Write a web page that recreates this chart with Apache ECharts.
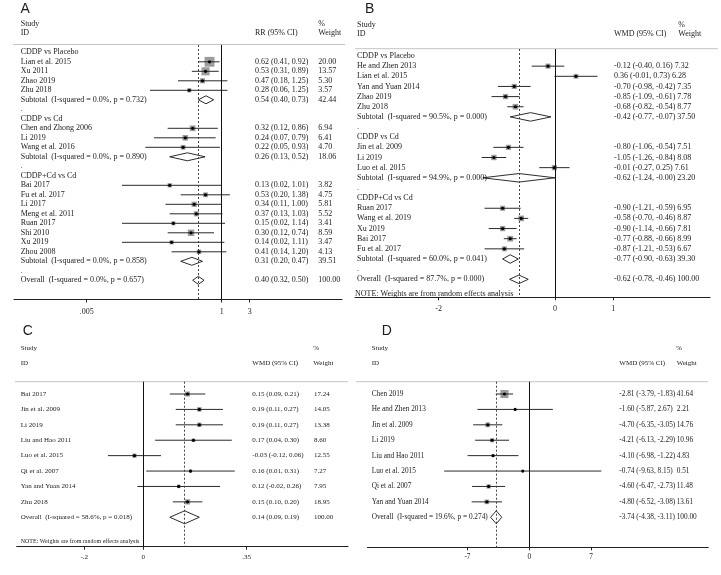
<!DOCTYPE html>
<html><head><meta charset="utf-8">
<script src="https://cdn.jsdelivr.net/npm/echarts@6/dist/echarts.min.js"></script>
<style>html,body{margin:0;padding:0;background:#fff}#c{width:721px;height:575px}</style>
</head><body><div id="c"></div>
<script>
// ---------------- Panel A : RR ----------------
const A_labels = ['CDDP vs Placebo','Lian et al. 2015','Xu 2011','Zhao 2019','Zhu 2018','Subtotal  (I-squared = 0.0%, p = 0.732)','.',
  'CDDP vs Cd','Chen and Zhong 2006','Li 2019','Wang et al. 2016','Subtotal  (I-squared = 0.0%, p = 0.890)','.',
  'CDDP+Cd vs Cd','Bai 2017','Fu et al. 2017','Li 2017','Meng et al. 2011','Ruan 2017','Shi 2010','Xu 2019','Zhou 2008',
  'Subtotal  (I-squared = 0.0%, p = 0.858)','.','Overall  (I-squared = 0.0%, p = 0.657)'];
const A_est = [null,0.62,0.53,0.47,0.28,0.54,null,null,0.32,0.24,0.22,0.26,null,null,0.13,0.53,0.34,0.37,0.15,0.30,0.14,0.41,0.31,null,0.40];
const A_lo  = [null,0.41,0.31,0.18,0.06,0.40,null,null,0.12,0.07,0.05,0.13,null,null,0.02,0.20,0.11,0.13,0.02,0.12,0.02,0.14,0.20,null,0.32];
const A_hi  = [null,0.92,0.89,1.25,1.25,0.73,null,null,0.86,0.79,0.93,0.52,null,null,1.01,1.38,1.00,1.03,1.14,0.74,1.11,1.20,0.47,null,0.50];
const A_weight = [null,20.00,13.57,5.30,3.57,42.44,null,null,6.94,6.41,4.70,18.06,null,null,3.82,4.75,5.81,5.52,3.41,8.59,3.47,4.13,39.51,null,100.00];
const A_ticks = [0.005, 1, 3];
const A_tickLabels = ['.005', '1', '3'];

// ---------------- Panel B : WMD ----------------
const B_labels = ['CDDP vs Placebo','He and Zhen 2013','Lian et al. 2015','Yan and Yuan 2014','Zhao 2019','Zhu 2018',
  'Subtotal  (I-squared = 90.5%, p = 0.000)','.','CDDP vs Cd','Jin et al. 2009','Li 2019','Luo et al. 2015',
  'Subtotal  (I-squared = 94.9%, p = 0.000)','.','CDDP+Cd vs Cd','Ruan 2017','Wang et al. 2019','Xu 2019','Bai 2017','Fu et al. 2017',
  'Subtotal  (I-squared = 60.0%, p = 0.041)','.','Overall  (I-squared = 87.7%, p = 0.000)'];
const B_est = [null,-0.12,0.36,-0.70,-0.85,-0.68,-0.42,null,null,-0.80,-1.05,-0.01,-0.62,null,null,-0.90,-0.58,-0.90,-0.77,-0.87,-0.77,null,-0.62];
const B_lo  = [null,-0.40,-0.01,-0.98,-1.09,-0.82,-0.77,null,null,-1.06,-1.26,-0.27,-1.24,null,null,-1.21,-0.70,-1.14,-0.88,-1.21,-0.90,null,-0.78];
const B_hi  = [null,0.16,0.73,-0.42,-0.61,-0.54,-0.07,null,null,-0.54,-0.84,0.25,-0.00,null,null,-0.59,-0.46,-0.66,-0.66,-0.53,-0.63,null,-0.46];
const B_weight = [null,7.32,6.28,7.35,7.78,8.77,37.50,null,null,7.51,8.08,7.61,23.20,null,null,6.95,8.87,7.81,8.99,6.67,39.30,null,100.00];
const B_ticks = [-2, 0, 1];
const B_tickLabels = ['-2', '0', '1'];

// ---------------- Panel C : WMD ----------------
const C_labels = ['Bai 2017','Jin et al. 2009','Li 2019','Liu and Hao 2011','Luo et al. 2015','Qi et al. 2007','Yan and Yuan 2014','Zhu 2018',
  'Overall  (I-squared = 58.6%, p = 0.018)'];
const C_est = [0.15,0.19,0.19,0.17,-0.03,0.16,0.12,0.15,0.14];
const C_lo  = [0.09,0.11,0.11,0.04,-0.12,0.01,-0.02,0.10,0.09];
const C_hi  = [0.21,0.27,0.27,0.30,0.06,0.31,0.26,0.20,0.19];
const C_weight = [17.24,14.05,13.38,8.60,12.55,7.27,7.95,18.95,100.00];
const C_ticks = [-0.2, 0, 0.35];
const C_tickLabels = ['-.2', '0', '.35'];

// ---------------- Panel D : WMD ----------------
const D_labels = ['Chen 2019','He and Zhen 2013','Jin et al. 2009','Li 2019','Liu and Hao 2011','Luo et al. 2015','Qi et al. 2007','Yan and Yuan 2014',
  'Overall  (I-squared = 19.6%, p = 0.274)'];
const D_est = [-2.81,-1.60,-4.70,-4.21,-4.10,-0.74,-4.60,-4.80,-3.74];
const D_lo  = [-3.79,-5.87,-6.35,-6.13,-6.98,-9.63,-6.47,-6.52,-4.38];
const D_hi  = [-1.83,2.67,-3.05,-2.29,-1.22,8.15,-2.73,-3.08,-3.11];
const D_weight = [41.64,2.21,14.76,10.96,4.83,0.51,11.48,13.61,100.00];
const D_ticks = [-7, 0, 7];
const D_tickLabels = ['-7', '0', '7'];

// ---------------- layout ----------------
const SERIF = '"Liberation Serif", "Times New Roman", serif';
const SANS = '"Liberation Sans", Arial, sans-serif';
const TXT = '#1c1c1c';
const ident = v => v;
const f2 = v => (Object.is(v, -0) ? '-' : '') + v.toFixed(2);

const panels = [
  {labels:A_labels, est:A_est, lo:A_lo, hi:A_hi, w:A_weight, ticks:A_ticks, tickLabels:A_tickLabels, tf:Math.log, nullVal:1,
   axisL:14, axisR:342, zeroPx:221.7, scale:25.48, top:45, axisY:299.5, y0:52.3, dy:9.5,
   font:8, labelX:20.7, ciX:255, wtX:318.3, combine:false, boxK:2.2, margin:8},
  {labels:B_labels, est:B_est, lo:B_lo, hi:B_hi, w:B_weight, ticks:B_ticks, tickLabels:B_tickLabels, tf:ident, nullVal:0,
   axisL:355, axisR:710, zeroPx:555, scale:58.2, top:49, axisY:297.3, y0:56, dy:10.15,
   font:8, labelX:357, ciX:614, wtX:678, combine:true, boxK:1.9, margin:8},
  {labels:C_labels, est:C_est, lo:C_lo, hi:C_hi, w:C_weight, ticks:C_ticks, tickLabels:C_tickLabels, tf:ident, nullVal:0,
   axisL:16.7, axisR:348, zeroPx:143.3, scale:295, top:381.7, axisY:546.7, y0:394, dy:15.41,
   font:7, labelX:20.7, ciX:252.3, wtX:314, combine:false, boxK:1.2, margin:6.5},
  {labels:D_labels, est:D_est, lo:D_lo, hi:D_hi, w:D_weight, ticks:D_ticks, tickLabels:D_tickLabels, tf:ident, nullVal:0,
   axisL:367.3, axisR:708.3, zeroPx:529.3, scale:8.84, top:381.7, axisY:547.3, y0:394, dy:15.41,
   font:7.3, labelX:371.7, ciX:619.3, wtX:676.7, combine:false, boxK:1.25, margin:6.5}
];

function txtStyle(text, font, align) {
  return {text: text, font: font, fill: TXT, align: align || 'left', verticalAlign: 'middle',
          textAlign: align || 'left', textVerticalAlign: 'middle'};
}

function renderFor(P) {
  const font = P.font + 'px ' + SERIF;
  return function (params, api) {
    const i = api.value(1);
    const y = api.coord([0, i])[1];
    const rowH = api.size([0, 1])[1];
    const label = P.labels[i];
    const kids = [{type: 'text', x: P.labelX, y: y, style: txtStyle(label, font)}];
    const est = P.est[i];
    if (est !== null && est !== undefined) {
      const pooled = /^(Subtotal|Overall)/.test(label);
      const c = api.coord([P.tf(est), i]);
      const l = api.coord([P.tf(P.lo[i]), i]);
      const h = api.coord([P.tf(P.hi[i]), i]);
      if (pooled) {
        const hh = rowH * 0.42;
        kids.push({type: 'polygon', shape: {points: [[l[0], y], [c[0], y - hh], [h[0], y], [c[0], y + hh]]},
                   style: {fill: 'none', stroke: '#151515', lineWidth: 0.9}});
      } else {
        const s = P.boxK * Math.sqrt(P.w[i]);
        kids.push({type: 'rect', shape: {x: c[0] - s / 2, y: y - s / 2, width: s, height: s}, style: {fill: '#9c9c9c'}});
        kids.push({type: 'line', shape: {x1: l[0], y1: y, x2: h[0], y2: y}, style: {stroke: '#2a2a2a', lineWidth: 1}});
        kids.push({type: 'circle', shape: {cx: c[0], cy: y, r: 1.6}, style: {fill: '#000'}});
      }
      const ci = f2(est) + ' (' + f2(P.lo[i]) + ', ' + f2(P.hi[i]) + ')';
      const wt = P.w[i].toFixed(2);
      if (P.combine) {
        kids.push({type: 'text', x: P.ciX, y: y, style: txtStyle(ci + ' ' + wt, font)});
      } else {
        kids.push({type: 'text', x: P.ciX, y: y, style: txtStyle(ci, font)});
        kids.push({type: 'text', x: P.wtX, y: y, style: txtStyle(wt, font)});
      }
    }
    return {type: 'group', children: kids};
  };
}

const grid = [], xAxis = [], yAxis = [], series = [];
panels.forEach((P, k) => {
  const xMin = (P.axisL - P.zeroPx) / P.scale;
  const xMax = (P.axisR - P.zeroPx) / P.scale;
  const yMin = (P.top - P.y0) / P.dy;
  const yMax = (P.axisY - P.y0) / P.dy;
  grid.push({left: P.axisL, top: P.top, width: P.axisR - P.axisL, height: P.axisY - P.top, outerBoundsMode: 'none', containLabel: false});
  const tickVals = P.ticks.map(P.tf);
  xAxis.push({
    gridIndex: k, type: 'value', min: xMin, max: xMax,
    axisLine: {show: true, onZero: false, lineStyle: {color: '#222', width: 1}},
    axisTick: {show: true, length: 3, customValues: tickVals, lineStyle: {color: '#222', width: 1}},
    axisLabel: {
      customValues: tickVals, margin: P.margin, fontSize: P.font, fontFamily: SERIF, color: TXT,
      formatter: v => {
        let best = 0;
        tickVals.forEach((t, j) => { if (Math.abs(t - v) < Math.abs(tickVals[best] - v)) best = j; });
        return P.tickLabels[best];
      }
    },
    splitLine: {show: false}
  });
  yAxis.push({gridIndex: k, type: 'value', inverse: true, min: yMin, max: yMax, show: false, splitLine: {show: false}});
  series.push({
    type: 'line', xAxisIndex: k, yAxisIndex: k, data: [], silent: true,
    markLine: {
      silent: true, symbol: 'none', animation: false, label: {show: false},
      data: [
        {xAxis: P.tf(P.nullVal), lineStyle: {color: '#111', width: 1, type: 'solid'}},
        {xAxis: P.tf(P.est[P.est.length - 1]), lineStyle: {color: '#444', width: 1, type: [2, 2]}}
      ]
    }
  });
  series.push({
    type: 'custom', xAxisIndex: k, yAxisIndex: k, clip: false, silent: true,
    data: P.labels.map((_, i) => [0, i]),
    encode: {x: 0, y: 1},
    renderItem: renderFor(P)
  });
});

// static texts (headers, panel letters, notes) and separator rules
const g = [];
function gt(text, x, y, size, family) {
  g.push({type: 'text', x: x, y: y, silent: true, style: txtStyle(text, size + 'px ' + (family || SERIF))});
}
function gl(x1, x2, y) {
  g.push({type: 'line', silent: true, shape: {x1: x1, y1: y, x2: x2, y2: y}, style: {stroke: '#c4c4c4', lineWidth: 1}});
}
gt('A', 20.5, 9.5, 14, SANS); gt('B', 365, 9.5, 14, SANS); gt('C', 22.7, 331.5, 14, SANS); gt('D', 381.7, 331.5, 14, SANS);
// A headers
gt('Study', 20.7, 24, 8); gt('ID', 20.7, 33.3, 8); gt('RR (95% CI)', 255, 33.3, 8); gt('%', 318.3, 24, 8); gt('Weight', 318.3, 33.3, 8);
// B headers
gt('Study', 357, 25, 8); gt('ID', 357, 34.3, 8); gt('WMD (95% CI)', 614, 34.3, 8); gt('%', 678.3, 25, 8); gt('Weight', 678.3, 34.3, 8);
gt('NOTE: Weights are from random effects analysis', 355, 293.5, 8);
// C headers
gt('Study', 20.7, 347.7, 7); gt('ID', 20.7, 362.7, 7); gt('WMD (95% CI)', 252.3, 362.7, 7); gt('%', 313.3, 347.7, 7); gt('Weight', 313.3, 362.7, 7);
gt('NOTE: Weights are from random effects analysis', 20.7, 541.7, 6);
// D headers
gt('Study', 371.7, 347.7, 7); gt('ID', 371.7, 362.7, 7); gt('WMD (95% CI)', 619.3, 362.7, 7); gt('%', 676, 347.7, 7); gt('Weight', 676.7, 362.7, 7);
gl(13, 345, 44.5); gl(355, 718, 48.7); gl(15, 348, 381.7); gl(356, 708, 381.7);

const chart = echarts.init(document.getElementById('c'), null, {renderer: 'canvas'});
chart.setOption({
  animation: false,
  backgroundColor: '#fff',
  grid: grid, xAxis: xAxis, yAxis: yAxis, series: series,
  graphic: {elements: g}
});
</script>
</body></html>
